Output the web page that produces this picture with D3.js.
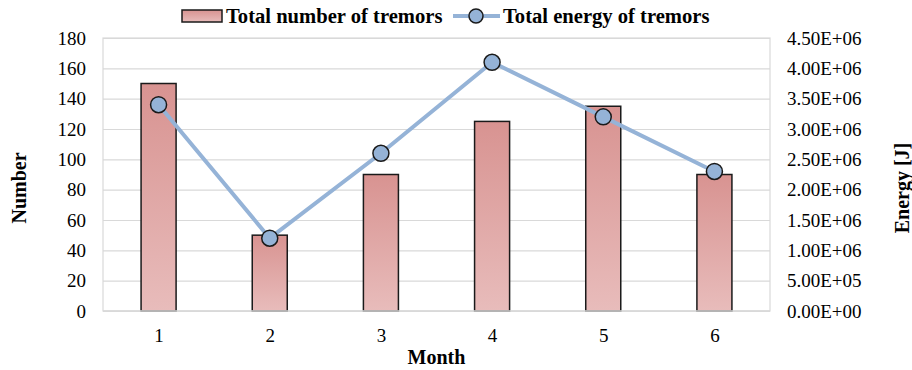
<!DOCTYPE html>
<html>
<head>
<meta charset="utf-8">
<script src="https://cdn.jsdelivr.net/npm/d3@7"></script>
<style>
  html, body { margin: 0; padding: 0; background: #fff; }
  svg { display: block; }
</style>
</head>
<body>
<svg id="chart" width="912" height="370"></svg>
<script>
// Monthly tremor statistics
const months = ["1", "2", "3", "4", "5", "6"];
const tremorCounts = [150, 50, 90, 125, 135, 90];
const tremorEnergy = [3.4e6, 1.2e6, 2.6e6, 4.1e6, 3.2e6, 2.3e6];
const countTicks = [0, 20, 40, 60, 80, 100, 120, 140, 160, 180];
const energyTicks = [0, 5e5, 1e6, 1.5e6, 2e6, 2.5e6, 3e6, 3.5e6, 4e6, 4.5e6];

const FONT = '"Liberation Serif", "Times New Roman", serif';
const svg = d3.select("#chart");
const plot = { left: 103, right: 770, top: 38, bottom: 311 };

const x = d3.scaleBand().domain(months).range([plot.left, plot.right]).paddingInner(0.685).paddingOuter(0.3425);
const xc = d3.scalePoint().domain(months).range([plot.left, plot.right]).padding(0.5);
const yL = d3.scaleLinear().domain([0, 180]).range([plot.bottom, plot.top]);
const yR = d3.scaleLinear().domain([0, 4.5e6]).range([plot.bottom, plot.top]);

// bar gradient
const defs = svg.append("defs");
const grad = defs.append("linearGradient").attr("id", "barGrad")
  .attr("x1", 0).attr("y1", 0).attr("x2", 0).attr("y2", 1);
grad.append("stop").attr("offset", "0%").attr("stop-color", "#d89391");
grad.append("stop").attr("offset", "100%").attr("stop-color", "#e8bcbb");

// gridlines
svg.append("g")
  .attr("transform", `translate(${plot.left},0)`)
  .call(d3.axisLeft(yL).tickValues(countTicks).tickSize(-(plot.right - plot.left)).tickFormat(""))
  .call(g => g.select(".domain").remove())
  .call(g => g.selectAll("line").attr("stroke", "#d9d9d9").attr("stroke-width", 1.2));

// plot frame
svg.append("rect")
  .attr("x", plot.left).attr("y", plot.top)
  .attr("width", plot.right - plot.left).attr("height", plot.bottom - plot.top)
  .attr("fill", "none").attr("stroke", "#d9d9d9").attr("stroke-width", 1.2);

// bars
svg.append("g").selectAll("rect").data(tremorCounts).join("rect")
  .attr("x", (d, i) => x(months[i]))
  .attr("y", d => yL(d))
  .attr("width", x.bandwidth())
  .attr("height", d => plot.bottom - yL(d))
  .attr("fill", "url(#barGrad)")
  .attr("stroke", "#1a1a1a").attr("stroke-width", 1.5);

// bottom axis line
svg.append("line")
  .attr("x1", plot.left).attr("x2", plot.right)
  .attr("y1", plot.bottom).attr("y2", plot.bottom)
  .attr("stroke", "#d9d9d9").attr("stroke-width", 1.5);

// energy line
const line = d3.line().x((d, i) => xc(months[i])).y(d => yR(d));
svg.append("path").datum(tremorEnergy)
  .attr("d", line).attr("fill", "none")
  .attr("stroke", "#95b3d7").attr("stroke-width", 4).attr("stroke-linejoin", "round");
svg.append("g").selectAll("circle").data(tremorEnergy).join("circle")
  .attr("cx", (d, i) => xc(months[i])).attr("cy", d => yR(d)).attr("r", 8)
  .attr("fill", "#95b3d7").attr("stroke", "#1a1a1a").attr("stroke-width", 1.5);

// axes
const tickFont = g => g.selectAll("text")
  .style("font-family", FONT).style("font-size", "19px").attr("fill", "#000");

svg.append("g").attr("transform", `translate(${plot.left},0)`)
  .call(d3.axisLeft(yL).tickValues(countTicks).tickSize(0).tickPadding(17))
  .call(g => g.select(".domain").remove())
  .call(tickFont);

const sci = v => {
  const e = v === 0 ? 0 : Math.floor(Math.log10(v));
  const m = v / Math.pow(10, e);
  return m.toFixed(2) + "E+" + String(e).padStart(2, "0");
};
svg.append("g").attr("transform", `translate(${plot.right},0)`)
  .call(d3.axisRight(yR).tickValues(energyTicks).tickSize(0).tickPadding(17).tickFormat(sci))
  .call(g => g.select(".domain").remove())
  .call(tickFont);

svg.append("g").attr("transform", `translate(0,${plot.bottom})`)
  .call(d3.axisBottom(xc).tickSize(0).tickPadding(18))
  .call(g => g.select(".domain").remove())
  .call(tickFont);

// axis titles
const title = sel => sel.style("font-family", FONT).style("font-size", "20px")
  .style("font-weight", "bold").attr("text-anchor", "middle").attr("fill", "#000");
svg.append("text").attr("x", (plot.left + plot.right) / 2).attr("y", 364)
  .call(title).text("Month");
svg.append("text").attr("transform", `translate(26,188) rotate(-90)`)
  .call(title).text("Number");
svg.append("text").attr("transform", `translate(909,188) rotate(-90)`)
  .call(title).text("Energy [J]");

// legend
const lg = svg.append("g");
const legendText = sel => sel.style("font-family", FONT).style("font-size", "20.6px")
  .style("font-weight", "bold").attr("fill", "#000");
lg.append("rect").attr("x", 182).attr("y", 10).attr("width", 40).attr("height", 12)
  .attr("fill", "url(#barGrad)").attr("stroke", "#1a1a1a").attr("stroke-width", 1.5);
lg.append("text").attr("x", 226).attr("y", 23).call(legendText).text("Total number of tremors");
lg.append("line").attr("x1", 453).attr("x2", 500).attr("y1", 16).attr("y2", 16)
  .attr("stroke", "#95b3d7").attr("stroke-width", 4);
lg.append("circle").attr("cx", 476).attr("cy", 16).attr("r", 7)
  .attr("fill", "#95b3d7").attr("stroke", "#1a1a1a").attr("stroke-width", 1.5);
lg.append("text").attr("x", 503).attr("y", 23).call(legendText).text("Total energy of tremors");
</script>
</body>
</html>
